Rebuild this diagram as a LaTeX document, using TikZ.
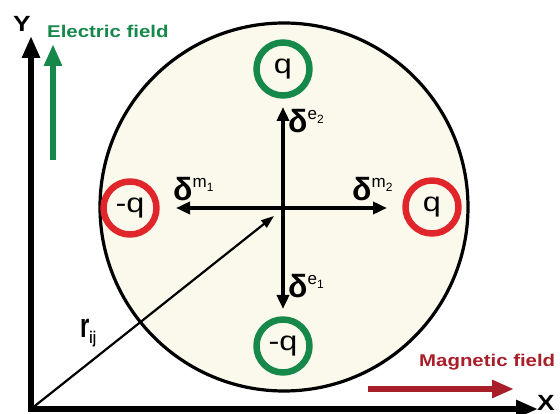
\documentclass[tikz,border=0pt]{standalone}
\usepackage{fontspec}
\setmainfont{Liberation Sans}
\newfontfamily\widesf[FakeStretch=1.2]{Liberation Sans}
\newfontfamily\narrowsf[FakeStretch=0.7]{Liberation Sans}
\usetikzlibrary{arrows.meta,positioning}
\definecolor{dipFill}{HTML}{FAF9EC}
\definecolor{eGreen}{HTML}{16884A}
\definecolor{qRed}{HTML}{E1262B}
\definecolor{mRed}{HTML}{A91F29}

% delta with a two-level superscript
\newcommand{\dlab}[2]{{\fontsize{32}{32}\selectfont\bfseries δ}%
  \raisebox{13pt}{\fontsize{17}{17}\selectfont #1\raisebox{-3.5pt}{\fontsize{12}{12}\selectfont #2}}}

\tikzset{
  ring/.style={circle, minimum size=53pt, line width=6.5pt, inner sep=0,
               fill=dipFill, font=\widesf\fontsize{27}{27}\selectfont},
  dvec/.style={-{Triangle[length=14pt,width=12pt]}, line width=3.5pt},
  axis/.style={-{Triangle[length=22pt,width=17pt]}, line width=6pt},
  field/.style={-{Triangle[length=22pt,width=17pt]}, line width=6.5pt},
  flabel/.style={font=\widesf\fontsize{17}{17}\selectfont\bfseries, inner sep=0},
  axlabel/.style={font=\widesf\fontsize{22}{22}\selectfont\bfseries, inner sep=0},
}

\begin{document}
\begin{tikzpicture}[x=1pt, y=-1pt, line join=round]
\useasboundingbox (0,0) rectangle (560,414);

% --- dipole region ---
\draw[fill=dipFill, line width=3.2pt] (284,207) circle (184);
\coordinate (c) at (283,208);

% --- charges ---
\node[ring, draw=eGreen] (qtop) at (283,69) {q};
\node[ring, draw=eGreen] (qbot) at (283,346) {-q};
\node[ring, draw=qRed]   (qleft) at (130,208) {-q};
\node[ring, draw=qRed]   (qright) at (432,207) {q};

% --- displacement vectors ---
\coordinate (e2) at (283,107);
\coordinate (e1) at (283,309);
\coordinate (m1) at (176,208);
\coordinate (m2) at (387,208);
\draw[dvec] (c) -- (e2);
\draw[dvec] (c) -- (e1);
\draw[dvec] (c) -- (m1);
\draw[dvec] (c) -- (m2);
\node[anchor=base west, inner sep=0] (le2) at (288,133) {\dlab{e}{2}};
\node[anchor=base west, inner sep=0] (le1) at (288,298) {\dlab{e}{1}};
\node[anchor=base west, inner sep=0] (lm1) at (173,201) {\dlab{m}{1}};
\node[anchor=base west, inner sep=0] (lm2) at (352,201) {\dlab{m}{2}};

% --- axes ---
\coordinate (o) at (31,409);
\coordinate (ytip) at (31,36);
\coordinate (xtip) at (538,409);
\draw[axis] (o) -- (ytip);
\draw[axis] ([xshift=-3pt]o) -- (xtip);
\node[axlabel] (ylab) at (22,24) {Y};
\node[axlabel, anchor=base east] (xlab) at (555,410) {X};

% --- position vector ---
\coordinate (rtip) at (274,216);
\draw[-{Triangle[length=13pt,width=9pt]}, line width=2.2pt] (o) -- (rtip);
\node[anchor=west, inner sep=0] (rlab) at (80,333)
  {\narrowsf\fontsize{34}{34}\selectfont\bfseries r\raisebox{-0.3ex}{\fontsize{17}{17}\selectfont ij}};

% --- fields ---
\coordinate (ebot) at (53,160);
\coordinate (etop) at (53,44);
\draw[field, eGreen] (ebot) -- (etop);
\node[flabel, text=eGreen, anchor=west] (elab) at (47,31) {Electric field};

\coordinate (mleft) at (368,389);
\coordinate (mright) at (514,389);
\draw[field, mRed] (mleft) -- (mright);
\node[flabel, text=mRed, anchor=west] (mlab) at (419,362) {Magnetic field};

\end{tikzpicture}
\end{document}
